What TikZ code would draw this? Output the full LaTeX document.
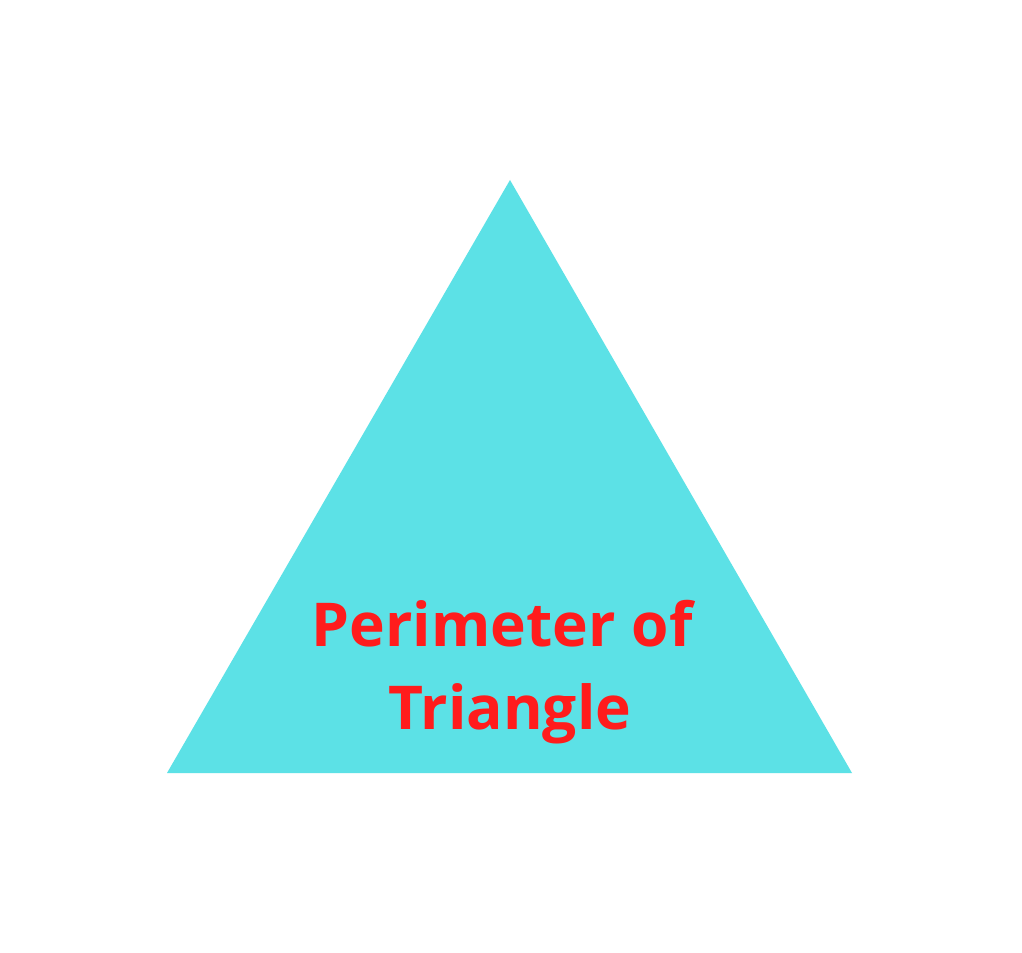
\documentclass[tikz,border=0pt]{standalone}
\usepackage{fontspec}
\setmainfont{Open Sans}
\usetikzlibrary{positioning}
\definecolor{trifill}{HTML}{5CE1E6}
\definecolor{labelred}{HTML}{FF1C1C}

\begin{document}
\begin{tikzpicture}[
  x=0.025cm, y=-0.025cm,
  label text/.style={font=\fontsize{43}{58.5}\selectfont\bfseries, text=labelred, align=center, inner sep=0pt}
]
  \useasboundingbox (0,0) rectangle (1022,953);
  \fill[white] (0,0) rectangle (1022,953);

  % triangle
  \coordinate (apex) at (510,180);
  \coordinate (left) at (167,773);
  \coordinate (right) at (852,773);
  \fill[trifill] (apex) -- (right) -- (left) -- cycle;

  \node[label text] (title) at (510,672) {Perimeter of\kern0.26em\\Triangle};
\end{tikzpicture}
\end{document}
